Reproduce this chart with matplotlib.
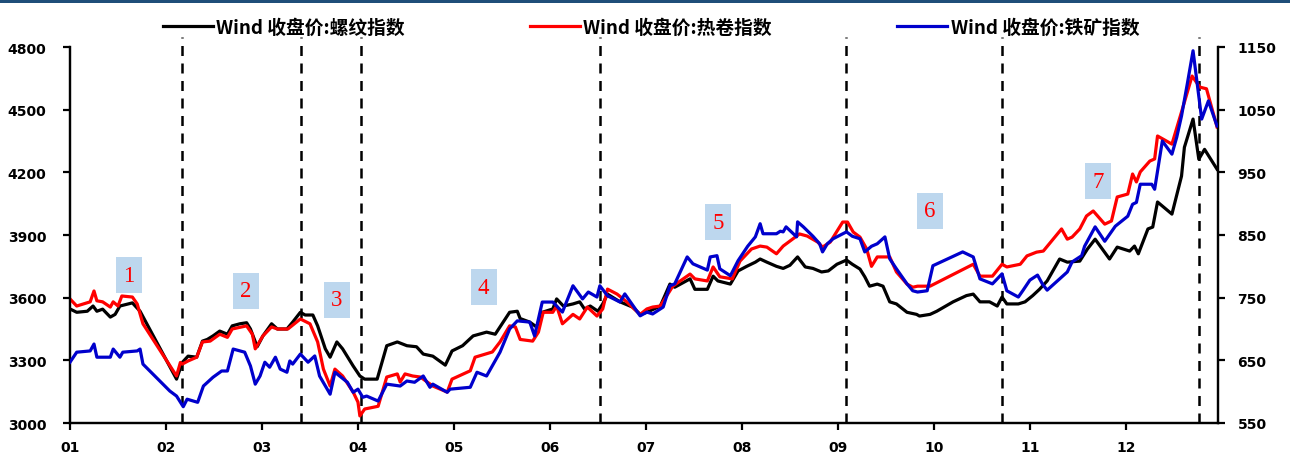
import matplotlib.pyplot as plt
from matplotlib.patches import Rectangle

# time axis in months since 1 Jan (0 = "01", 11 = "12")
rebar_t = [0.00, 0.07, 0.18, 0.24, 0.28, 0.34, 0.42, 0.47, 0.52, 0.65, 0.73, 1.11, 1.17, 1.23, 1.32,
           1.38, 1.43, 1.49, 1.56, 1.64, 1.69, 1.77, 1.84, 1.88, 1.95, 2.01, 2.10, 2.16, 2.26, 2.32,
           2.40, 2.45, 2.53, 2.58, 2.66, 2.71, 2.78, 2.84, 2.95, 3.02, 3.07, 3.20, 3.30, 3.41, 3.51,
           3.61, 3.68, 3.78, 3.91, 3.98, 4.09, 4.20, 4.34, 4.43, 4.58, 4.66, 4.69, 4.79, 4.86, 4.92,
           5.03, 5.07, 5.14, 5.24, 5.31, 5.36, 5.42, 5.50, 5.55, 5.60, 5.73, 5.86, 5.94, 6.01, 6.15,
           6.25, 6.30, 6.46, 6.51, 6.64, 6.70, 6.75, 6.88, 6.96, 7.05, 7.14, 7.19, 7.26, 7.36, 7.43,
           7.50, 7.58, 7.66, 7.74, 7.83, 7.90, 7.99, 8.09, 8.15, 8.23, 8.28, 8.33, 8.41, 8.47, 8.54,
           8.61, 8.72, 8.82, 8.85, 8.96, 9.03, 9.20, 9.34, 9.41, 9.48, 9.58, 9.66, 9.71, 9.76, 9.88,
           9.95, 10.03, 10.10, 10.18, 10.31, 10.39, 10.52, 10.60, 10.68, 10.83, 10.91, 11.04, 11.09,
           11.13, 11.23, 11.28, 11.33, 11.48, 11.58, 11.61, 11.70, 11.76, 11.82, 11.95]
rebar = [3546, 3530, 3535, 3560, 3535, 3545, 3507, 3520, 3560, 3575, 3535, 3210, 3290, 3320, 3315,
         3392, 3400, 3417, 3440, 3425, 3465, 3475, 3480, 3450, 3365, 3417, 3475, 3450, 3450, 3483,
         3530, 3517, 3517, 3465, 3355, 3315, 3388, 3355, 3273, 3225, 3210, 3210, 3370, 3388, 3370,
         3365, 3330, 3320, 3277, 3345, 3370, 3417, 3435, 3425, 3530, 3535, 3500, 3483, 3460, 3530,
         3546, 3594, 3560, 3570, 3580, 3546, 3560, 3535, 3570, 3617, 3580, 3555, 3520, 3530, 3560,
         3665, 3650, 3690, 3640, 3640, 3703, 3680, 3665, 3728, 3750, 3770, 3785, 3770, 3750, 3740,
         3755, 3795, 3747, 3740, 3723, 3728, 3760, 3780, 3760, 3737, 3700, 3655, 3665, 3655, 3580,
         3570, 3530, 3520, 3512, 3520, 3535, 3580, 3610, 3617, 3580, 3580, 3560, 3603, 3570, 3570,
         3580, 3610, 3640, 3680, 3785, 3770, 3775, 3833, 3880, 3785, 3842, 3823, 3847,
         3810, 3929, 3938, 4058, 4000, 4182, 4320, 4455, 4263, 4310, 4215]

coil_t = [0.00, 0.07, 0.21, 0.25, 0.28, 0.34, 0.42, 0.45, 0.50, 0.54, 0.65, 0.70, 0.76, 1.11, 1.15,
          1.17, 1.23, 1.32, 1.38, 1.46, 1.56, 1.64, 1.69, 1.84, 1.90, 1.93, 2.01, 2.10, 2.16, 2.27,
          2.40, 2.50, 2.58, 2.64, 2.71, 2.76, 2.84, 2.95, 3.00, 3.02, 3.07, 3.21, 3.30, 3.41, 3.44,
          3.49, 3.57, 3.65, 3.78, 3.93, 3.98, 4.17, 4.22, 4.40, 4.48, 4.58, 4.64, 4.69, 4.82, 4.88,
          4.93, 5.03, 5.07, 5.13, 5.24, 5.31, 5.39, 5.49, 5.55, 5.60, 5.70, 5.80, 5.94, 6.01, 6.07,
          6.15, 6.28, 6.46, 6.51, 6.64, 6.70, 6.77, 6.90, 6.98, 7.10, 7.19, 7.26, 7.36, 7.43, 7.60,
          7.68, 7.79, 7.84, 7.92, 8.05, 8.10, 8.16, 8.23, 8.30, 8.35, 8.41, 8.54, 8.61, 8.72, 8.78,
          8.83, 8.96, 9.41, 9.48, 9.61, 9.71, 9.76, 9.90, 9.97, 10.07, 10.14, 10.33, 10.39, 10.44,
          10.52, 10.59, 10.66, 10.78, 10.85, 10.91, 11.02, 11.07, 11.11, 11.15, 11.25, 11.30, 11.33,
          11.48, 11.58, 11.69, 11.77, 11.84, 11.95]
coil = [3594, 3560, 3580, 3632, 3585, 3580, 3555, 3580, 3560, 3608, 3603, 3570, 3475, 3225, 3290,
        3282, 3297, 3315, 3388, 3392, 3425, 3410, 3450, 3465, 3425, 3355, 3417, 3460, 3450, 3450,
        3498, 3475, 3388, 3258, 3177, 3258, 3225, 3148, 3100, 3034, 3067, 3080, 3220, 3235, 3196,
        3235, 3225, 3220, 3177, 3148, 3210, 3250, 3315, 3340, 3388, 3465, 3460, 3400, 3392, 3435,
        3530, 3530, 3560, 3475, 3520, 3498, 3555, 3512, 3546, 3641, 3617, 3580, 3520, 3546, 3555,
        3560, 3655, 3713, 3690, 3680, 3747, 3700, 3690, 3775, 3833, 3847, 3842, 3810, 3847, 3905,
        3895, 3866, 3842, 3866, 3962, 3962, 3914, 3890, 3833, 3750, 3795, 3795, 3723, 3665, 3650,
        3655, 3655, 3760, 3703, 3703, 3760, 3747, 3760, 3800, 3818, 3823, 3929, 3880, 3890,
        3929, 3991, 4015, 3952, 3967, 4082, 4096, 4192, 4154, 4202, 4254, 4264, 4374,
        4335, 4489, 4661, 4608, 4600, 4417]

ore_t = [0.00, 0.07, 0.21, 0.25, 0.28, 0.42, 0.45, 0.52, 0.55, 0.70, 0.73, 0.76, 1.04, 1.11, 1.18,
         1.22, 1.33, 1.39, 1.49, 1.58, 1.64, 1.70, 1.82, 1.88, 1.93, 1.98, 2.03, 2.08, 2.14, 2.19,
         2.26, 2.29, 2.32, 2.40, 2.48, 2.55, 2.60, 2.71, 2.76, 2.89, 2.95, 3.00, 3.05, 3.09, 3.21,
         3.30, 3.44, 3.51, 3.59, 3.68, 3.75, 3.78, 3.93, 3.96, 4.17, 4.24, 4.34, 4.48, 4.58, 4.66,
         4.79, 4.84, 4.92, 5.03, 5.13, 5.24, 5.34, 5.40, 5.49, 5.52, 5.60, 5.73, 5.78, 5.94, 6.01,
         6.07, 6.18, 6.25, 6.30, 6.43, 6.49, 6.64, 6.67, 6.74, 6.77, 6.88, 6.96, 7.06, 7.14, 7.19,
         7.22, 7.36, 7.40, 7.43, 7.46, 7.57, 7.58, 7.64, 7.74, 7.81, 7.84, 7.89, 7.95, 8.09, 8.15,
         8.23, 8.28, 8.35, 8.41, 8.49, 8.54, 8.61, 8.72, 8.78, 8.83, 8.93, 8.99, 9.30, 9.41, 9.48,
         9.61, 9.71, 9.76, 9.88, 9.93, 10.00, 10.08, 10.13, 10.18, 10.31, 10.39, 10.44, 10.54,
         10.57, 10.68, 10.78, 10.89, 11.02, 11.07, 11.11, 11.15, 11.27, 11.30, 11.38, 11.48, 11.53,
         11.58, 11.64, 11.70, 11.77, 11.79, 11.86, 11.95]
ore = [647, 663, 665, 676, 655, 655, 668, 655, 663, 665, 668, 644, 601, 593, 576,
       588, 583, 609, 623, 633, 633, 668, 663, 641, 612, 625, 647, 639, 655, 636,
       631, 649, 644, 660, 647, 657, 625, 596, 631, 615, 599, 604, 591, 593, 585,
       612, 609, 617, 615, 625, 607, 612, 599, 604, 607, 631, 625, 663, 700, 713,
       711, 689, 743, 743, 727, 769, 748, 759, 751, 769, 753, 743, 756, 721, 727,
       724, 735, 769, 772, 815, 804, 794, 815, 817, 796, 785, 809, 832, 847, 868,
       852, 852, 856, 855, 863, 847, 871, 863, 848, 836, 823, 836, 844, 855, 848,
       844, 823, 832, 836, 847, 812, 796, 772, 761, 759, 761, 801, 823, 815, 780,
       772, 788, 761, 751, 762, 778, 786, 772, 762, 780, 791, 807, 817,
       832, 863, 840, 864, 880, 899, 902, 931, 931, 923, 1000, 979, 1006,
       1040, 1091, 1144, 1059, 1035, 1064, 1024]

month_labels = ['01', '02', '03', '04', '05', '06', '07', '08', '09', '10', '11', '12']
left_ticks = [3000, 3300, 3600, 3900, 4200, 4500, 4800]
right_ticks = [550, 650, 750, 850, 950, 1050, 1150]

# phase boundaries (dashed) and the numbered phase tags
phase_breaks = [1.167, 2.406, 3.031, 5.52, 8.08, 9.71, 11.76]
phase_tags = ['1', '2', '3', '4', '5', '6', '7']
tag_t = [0.61, 1.83, 2.78, 4.31, 6.75, 8.96, 10.71]
tag_y = [3708, 3632, 3589, 3651, 3962, 4015, 4158]

names = ['Wind 收盘价:螺纹指数', 'Wind 收盘价:热卷指数', 'Wind 收盘价:铁矿指数']
colors = ['#000000', '#FF0000', '#0000CC']

tick_font = dict(family='DejaVu Sans', weight='bold', size=10)

fig = plt.figure(figsize=(12.9, 4.56), dpi=100)
ax = fig.add_axes([70 / 1290, 32 / 456, 1148 / 1290, 376 / 456])
ax2 = ax.twinx()

# dark band along the top edge
fig.add_artist(Rectangle((0, 1 - 4 / 456), 1, 4 / 456, transform=fig.transFigure,
                         color='#1F4E79', lw=0))

for xb in phase_breaks:
    ax.plot([xb, xb], [3000, 4850], color='black', lw=1.8, ls=(0, (4, 3)),
            clip_on=False, zorder=1)

l1, = ax.plot(rebar_t, rebar, color=colors[0], lw=2.3, zorder=3)
l2, = ax.plot(coil_t, coil, color=colors[1], lw=2.3, zorder=4)
l3, = ax2.plot(ore_t, ore, color=colors[2], lw=2.3, zorder=5)

for s, tx, ty in zip(phase_tags, tag_t, tag_y):
    ax2.text(tx, ty, s, transform=ax.transData, ha='center', va='center',
             color='#FF0000', fontsize=16.5, family='Liberation Serif',
             bbox=dict(boxstyle='square,pad=0.32', fc='#BDD7EE', ec='none'))

ax.set_xlim(0, 11.96)
ax.set_ylim(3000, 4800)
ax2.set_ylim(550, 1150)
ax.set_xticks(range(12))
ax.set_xticklabels(month_labels)
ax.set_yticks(left_ticks)
ax2.set_yticks(right_ticks)

for a in (ax, ax2):
    a.spines['top'].set_visible(False)
    for sp in ('left', 'right', 'bottom'):
        a.spines[sp].set_linewidth(1.6)
    a.tick_params(width=1.6, length=5, direction='out')
    for lab in a.get_xticklabels() + a.get_yticklabels():
        lab.set(**tick_font)
ax.tick_params(axis='y', pad=12)
ax.tick_params(axis='x', pad=7)
ax2.tick_params(axis='y', pad=9)

fig.legend([l1, l2, l3], names, loc='center', bbox_to_anchor=(0.5047, 0.9386), ncol=3,
           frameon=False, handlelength=2.65, handletextpad=0.2, columnspacing=6.67,
           prop=dict(family='Noto Sans CJK SC', weight='bold', size=13.5))

fig.savefig('out.png', dpi=100)
